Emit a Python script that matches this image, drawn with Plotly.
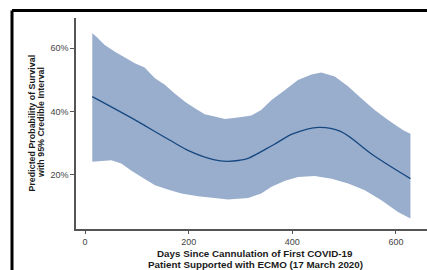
import plotly.graph_objects as go

# Central estimate (days, % survival)
mean_days = [14, 87, 164, 203, 248, 274, 299, 316, 364, 402, 451, 493, 557, 628]
mean_pct = [44.7, 38.2, 30.9, 27.4, 24.8, 24.25, 24.6, 25.3, 29.5, 33.0, 35.0, 33.7, 26.1, 18.8]

# Upper 95% credible bound
upper_days = [14, 22, 38, 57, 77, 96, 115, 135, 154, 173, 193, 212, 231, 250, 270, 295, 321,
              340, 360, 386, 411, 437, 456, 482, 508, 533, 559, 585, 604, 615, 628]
upper_pct = [64.7, 63.6, 61.0, 58.9, 57.0, 55.2, 53.9, 50.5, 48.4, 45.7, 43.1, 41.0, 39.1, 38.4, 37.6, 38.1, 38.7,
             40.5, 43.6, 46.8, 49.9, 51.7, 52.3, 51.0, 47.9, 44.2, 40.5, 37.3, 35.2, 34.0, 33.0]

# Lower 95% credible bound
lower_days = [14, 32, 51, 70, 89, 109, 135, 160, 186, 218, 250, 276, 315, 340, 360, 386, 411,
              443, 476, 508, 540, 572, 604, 628]
lower_pct = [24.1, 24.4, 24.6, 23.6, 21.4, 19.3, 16.7, 15.4, 14.1, 13.2, 12.7, 12.2, 12.7, 14.1, 16.2, 18.1, 19.3,
             19.6, 18.8, 17.3, 15.1, 12.0, 8.3, 6.2]

x_ticks = [0, 200, 400, 600]
y_ticks = [20, 40, 60]
y_tick_labels = ["20%", "40%", "60%"]

x_title_lines = ["Days Since Cannulation of First COVID-19",
                 "Patient Supported with ECMO (17 March 2020)"]
y_title_lines = ["Predicted Probability of Survival",
                 "with 95% Credible Interval"]

band_x = upper_days + lower_days[::-1]
band_y = upper_pct + lower_pct[::-1]

fig = go.Figure()
fig.add_trace(go.Scatter(x=band_x, y=band_y, fill="toself", mode="none",
                         fillcolor="rgb(153,173,205)", hoverinfo="skip"))
fig.add_trace(go.Scatter(x=mean_days, y=mean_pct, mode="lines",
                         line=dict(color="rgb(22,72,128)", width=1.3, shape="spline", smoothing=1.0)))

font_family = "Liberation Sans, Arial, sans-serif"
PW = 351.0
PH = 211.0

annotations = []
for i, (txt, cy) in enumerate(zip(x_title_lines, [253.5, 264.5])):
    annotations.append(dict(text="<b>" + txt + "</b>", xref="paper", yref="paper",
                            x=(255 - 76) / PW, y=(229 - cy) / PH, xanchor="center", yanchor="middle",
                            showarrow=False,
                            font=dict(size=9.8, color="#1a1a1a", family=font_family)))
for i, (txt, cx) in enumerate(zip(y_title_lines, [31.5, 41.0])):
    annotations.append(dict(text="<b>" + txt + "</b>", xref="paper", yref="paper",
                            x=(cx - 76) / PW, y=(229 - 123) / PH, xanchor="center", yanchor="middle",
                            textangle=-90, showarrow=False,
                            font=dict(size=8.9, color="#1a1a1a", family=font_family)))

fig.update_layout(
    width=427, height=270,
    margin=dict(l=76, r=0, t=18, b=41),
    paper_bgcolor="white", plot_bgcolor="white",
    showlegend=False,
    font=dict(family=font_family, size=9, color="#4d4d4d"),
    xaxis=dict(range=[-17.4, 660], tickvals=x_ticks, showgrid=False, zeroline=False,
               showline=True, linecolor="#555555", linewidth=1.5,
               ticks="outside", ticklen=3, tickcolor="#555555", tickwidth=1,
               tickfont=dict(size=9, color="#444444")),
    yaxis=dict(range=[2.9, 69.5], tickvals=y_ticks, ticktext=y_tick_labels, showgrid=False, zeroline=False,
               showline=True, linecolor="#555555", linewidth=1.5,
               ticks="outside", ticklen=4, tickcolor="#555555", tickwidth=1,
               tickfont=dict(size=9, color="#444444")),
    shapes=[
        dict(type="line", xref="paper", yref="paper",
             x0=(12 - 76) / PW, x1=(440 - 76) / PW, y0=(229 - 10.5) / PH, y1=(229 - 10.5) / PH,
             line=dict(color="black", width=3), layer="above"),
        dict(type="line", xref="paper", yref="paper",
             x0=(12 - 76) / PW, x1=(12 - 76) / PW, y0=(229 - 10.5) / PH, y1=(229 - 290) / PH,
             line=dict(color="black", width=3), layer="above"),
    ],
    annotations=annotations,
)

fig.write_html("out.html", config={"displayModeBar": False},
               post_script="document.body.style.margin='0';")
